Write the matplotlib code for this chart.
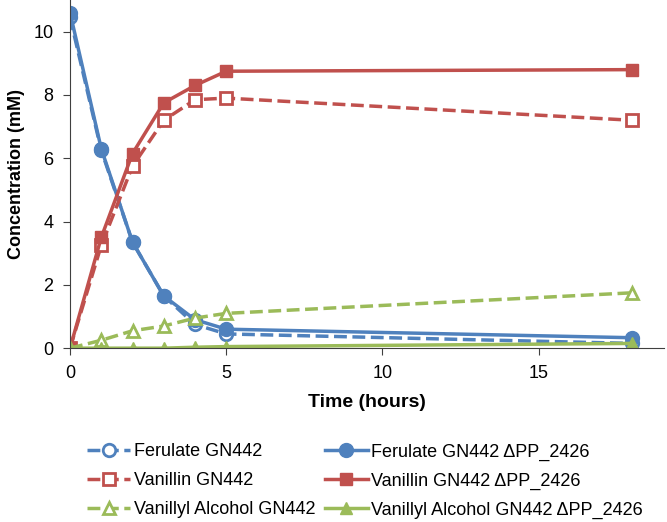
import matplotlib.pyplot as plt
import matplotlib
matplotlib.rcParams['font.family'] = ['Liberation Sans', 'DejaVu Sans']

time_h = [0, 1, 2, 3, 4, 5, 18]

ferulate_wt = [10.45, 6.25, 3.35, 1.65, 0.75, 0.45, 0.15]
ferulate_ko = [10.6, 6.3, 3.35, 1.65, 0.9, 0.6, 0.33]
vanillin_wt = [0.0, 3.25, 5.75, 7.2, 7.85, 7.9, 7.2]
vanillin_ko = [0.0, 3.5, 6.15, 7.75, 8.3, 8.75, 8.8]
valc_wt = [0.0, 0.25, 0.55, 0.7, 0.95, 1.1, 1.75]
valc_ko = [0.0, 0.0, 0.0, 0.0, 0.03, 0.05, 0.15]

blue = '#4F81BD'
red = '#C0504D'
green = '#9BBB59'

fig = plt.figure(figsize=(6.67, 5.22), dpi=100)
ax = fig.add_axes([0.105, 0.333, 0.89, 0.667])

ax.plot(time_h, ferulate_wt, '--o', color=blue, lw=2.5, ms=9, mfc='white', mew=2,
        label='Ferulate GN442')
ax.plot(time_h, ferulate_ko, '-o', color=blue, lw=2.5, ms=10,
        label='Ferulate GN442 \u0394PP_2426')
ax.plot(time_h, vanillin_wt, '--s', color=red, lw=2.5, ms=9, mfc='white', mew=2,
        label='Vanillin GN442')
ax.plot(time_h, vanillin_ko, '-s', color=red, lw=2.5, ms=9,
        label='Vanillin GN442 \u0394PP_2426')
ax.plot(time_h, valc_wt, '--^', color=green, lw=2.5, ms=9, mfc='white', mew=2,
        label='Vanillyl Alcohol GN442')
ax.plot(time_h, valc_ko, '-^', color=green, lw=2.5, ms=9,
        label='Vanillyl Alcohol GN442 \u0394PP_2426')

ax.set_xlim(0, 19)
ax.set_ylim(0, 11)
ax.set_xticks([0, 5, 10, 15])
ax.set_yticks([0, 2, 4, 6, 8, 10])
ax.spines['top'].set_visible(False)
ax.spines['right'].set_visible(False)
ax.spines['left'].set_color('#404040')
ax.spines['bottom'].set_color('#404040')
ax.tick_params(direction='out', labelsize=13, length=5, color='#404040', pad=7)
ax.set_xlabel('Time (hours)', fontsize=14, fontweight='bold', labelpad=9)
ax.set_ylabel('Concentration (mM)', fontsize=13, fontweight='bold', labelpad=6)

h, l = ax.get_legend_handles_labels()
order = [0, 2, 4, 1, 3, 5]
fig.legend([h[i] for i in order], [l[i] for i in order], ncol=2, frameon=False,
           loc='upper left', bbox_to_anchor=(78 / 667, 0.168), borderpad=0,
           fontsize=13, columnspacing=0.5, handlelength=2.4, handletextpad=0.2,
           labelspacing=0.66)

plt.savefig('out.png', dpi=100)
